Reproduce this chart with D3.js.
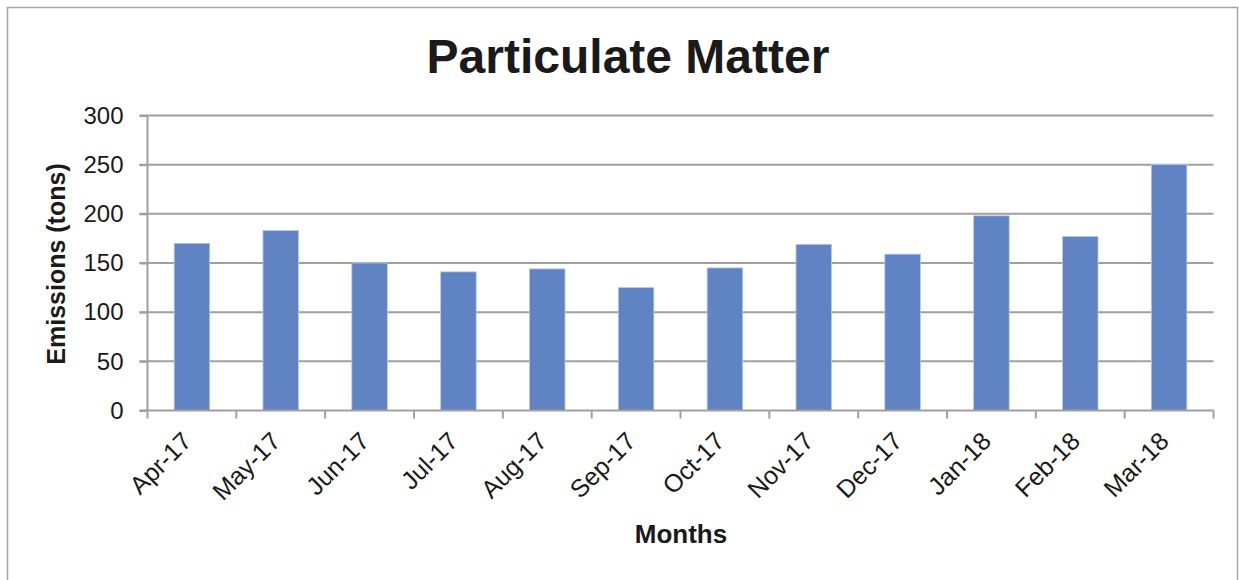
<!DOCTYPE html>
<html>
<head>
<meta charset="utf-8">
<script src="https://cdn.jsdelivr.net/npm/d3@7"></script>
<style>
  body { margin: 0; background: #fff; }
  text { font-family: "Liberation Sans", Arial, sans-serif; fill: #1a1a1a; }
</style>
</head>
<body>
<svg width="1239" height="580"></svg>
<script>
var months = ["Apr-17", "May-17", "Jun-17", "Jul-17", "Aug-17", "Sep-17",
              "Oct-17", "Nov-17", "Dec-17", "Jan-18", "Feb-18", "Mar-18"];
var emissions = [170, 183, 150, 141, 144, 125, 145, 169, 159, 198, 177, 250];
var yTicks = [0, 50, 100, 150, 200, 250, 300];

function main(){
    var svg = d3.select("svg");
    var left = 147.5, right = 1213.5, top = 115.5, bottom = 410.5;

    // outer chart frame
    svg.append("rect")
        .attr("x", 7.5).attr("y", 7.5)
        .attr("width", 1230).attr("height", 600)
        .attr("fill", "none")
        .attr("stroke", "#a6a6a6")
        .attr("stroke-width", 1.5);

    svg.append("text")
        .attr("x", 628)
        .attr("y", 73)
        .attr("text-anchor", "middle")
        .attr("font-size", "48px")
        .attr("font-weight", "bold")
        .text("Particulate Matter");

    var x = d3.scaleBand().domain(months).range([left, right])
        .paddingInner(0.6).paddingOuter(0.3);
    var y = d3.scaleLinear().domain([0, 300]).range([bottom, top]);

    // gridlines
    svg.append("g")
        .selectAll("line")
        .data(yTicks.filter(function(d){ return d > 0; }))
        .enter().append("line")
        .attr("x1", left - 8).attr("x2", right)
        .attr("y1", function(d){ return y(d); })
        .attr("y2", function(d){ return y(d); })
        .attr("stroke", "#a0a0a0")
        .attr("stroke-width", 2);

    // y axis
    var yAxis = svg.append("g")
        .attr("transform", "translate(" + left + ",0)")
        .call(d3.axisLeft(y).tickValues(yTicks).tickSize(8).tickPadding(16));
    yAxis.selectAll("line, path").attr("stroke", "#a0a0a0").attr("stroke-width", 2);
    yAxis.select(".domain").attr("d", "M0," + top + "V" + bottom);
    yAxis.selectAll("text")
        .attr("font-size", "24px")
        .attr("fill", "#1a1a1a")
        .style("font-family", "Liberation Sans, Arial, sans-serif");

    // bars
    svg.append("g")
        .selectAll("rect")
        .data(emissions)
        .enter().append("rect")
        .attr("x", function(d, i){ return x(months[i]); })
        .attr("y", function(d){ return y(d); })
        .attr("width", x.bandwidth())
        .attr("height", function(d){ return bottom - y(d); })
        .attr("fill", "#6083c3")
        .attr("stroke", "#b9c9e6")
        .attr("stroke-width", 0.8);

    // x axis, ticks between categories
    var step = x.step();
    var xg = svg.append("g");
    xg.append("line")
        .attr("x1", left - 8).attr("x2", right)
        .attr("y1", bottom).attr("y2", bottom)
        .attr("stroke", "#a0a0a0").attr("stroke-width", 2);
    xg.selectAll(".tk")
        .data(d3.range(months.length + 1))
        .enter().append("line")
        .attr("x1", function(i){ return left + i * step; })
        .attr("x2", function(i){ return left + i * step; })
        .attr("y1", bottom).attr("y2", bottom + 8)
        .attr("stroke", "#a0a0a0").attr("stroke-width", 2);

    xg.selectAll(".lbl")
        .data(months)
        .enter().append("text")
        .attr("transform", function(d){
            return "translate(" + (x(d) + x.bandwidth() / 2 - 12) + "," + (bottom + 19) + ") rotate(-45)";
        })
        .attr("text-anchor", "end")
        .attr("dy", "0.75em")
        .attr("font-size", "25px")
        .text(function(d){ return d; });

    svg.append("text")
        .attr("x", 681)
        .attr("y", 543)
        .attr("text-anchor", "middle")
        .attr("font-size", "26px")
        .attr("font-weight", "bold")
        .text("Months");

    svg.append("text")
        .attr("transform", "translate(65,264) rotate(-90)")
        .attr("text-anchor", "middle")
        .attr("font-size", "25px")
        .attr("font-weight", "bold")
        .text("Emissions (tons)");
}
main();
</script>
</body>
</html>
